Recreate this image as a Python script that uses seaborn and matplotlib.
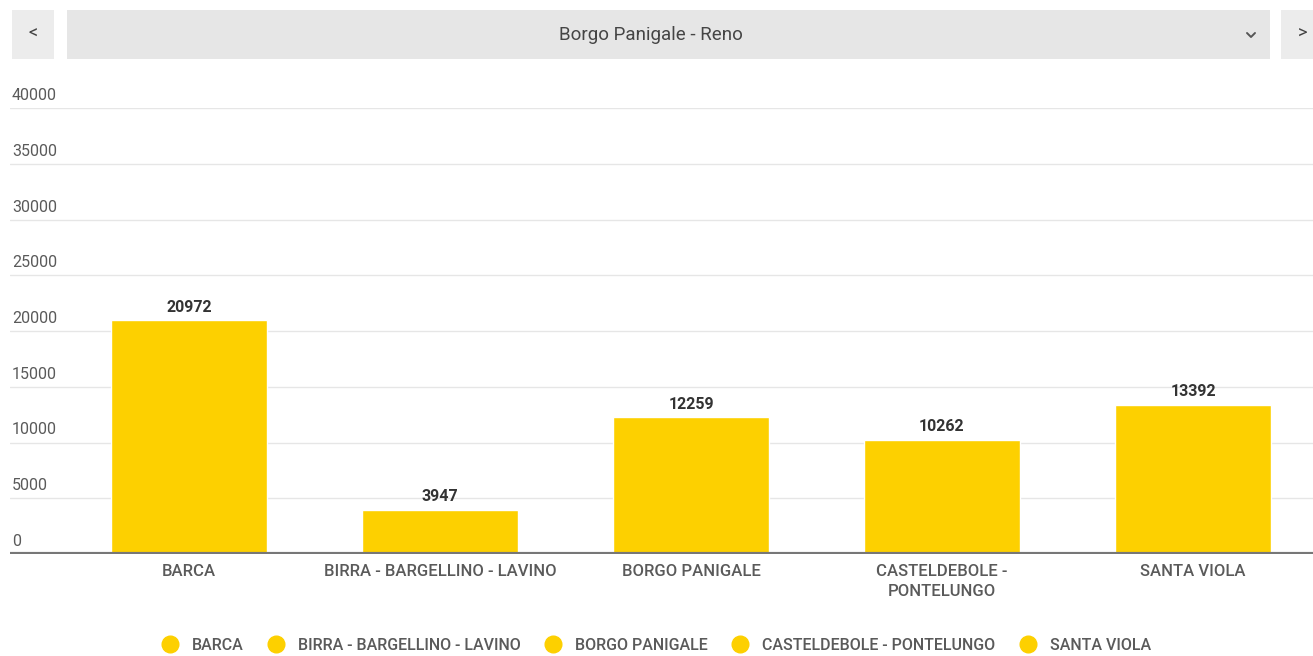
import matplotlib
matplotlib.use("Agg")
import matplotlib.pyplot as plt
from matplotlib.lines import Line2D
from matplotlib.patches import Rectangle
from matplotlib.transforms import blended_transform_factory, offset_copy
import seaborn as sns
import pandas as pd

# Data
zones = ["BARCA", "BIRRA - BARGELLINO - LAVINO", "BORGO PANIGALE",
         "CASTELDEBOLE - PONTELUNGO", "SANTA VIOLA"]
tick_labels = ["BARCA", "BIRRA - BARGELLINO - LAVINO", "BORGO PANIGALE",
               "CASTELDEBOLE -\nPONTELUNGO", "SANTA VIOLA"]
residents = [20972, 3947, 12259, 10262, 13392]
y_ticks = [0, 5000, 10000, 15000, 20000, 25000, 30000, 35000, 40000]
district = "Borgo Panigale - Reno"

BAR = "#FDD000"
TEXT = "#5a5a5a"

sns.set_theme(style="white")
plt.rcParams["font.family"] = ["Roboto", "DejaVu Sans"]

W, H, DPI = 1313, 656, 100
fig = plt.figure(figsize=(W / DPI, H / DPI), dpi=DPI)
fig.patch.set_facecolor("white")


def px(x, y):
    return x / W, 1 - y / H


# Navigation bar: previous button, district selector, next button
def box(x0, y0, x1, y1, color):
    fx0, fy1 = px(x0, y0)
    fx1, fy0 = px(x1, y1)
    fig.add_artist(Rectangle((fx0, fy0), fx1 - fx0, fy1 - fy0,
                             transform=fig.transFigure, color=color, lw=0))

box(12, 10, 54, 59, "#ececec")
box(67, 10, 1270, 59, "#e6e6e6")
box(1281, 10, 1320, 59, "#ececec")
fig.text(*px(33, 34), "<", ha="center", va="center", fontsize=13, color="#444")
fig.text(*px(1303, 34), ">", ha="center", va="center", fontsize=13, color="#444")
fig.text(*px(651, 35), district, ha="center", va="center", fontsize=13.5,
         color="#454545")
cx, cy = 1251, 35
xs = [px(cx - 4, cy - 2)[0], px(cx, cy + 2)[0], px(cx + 4, cy - 2)[0]]
ys = [px(cx - 4, cy - 2)[1], px(cx, cy + 2)[1], px(cx + 4, cy - 2)[1]]
fig.add_artist(Line2D(xs, ys, transform=fig.transFigure, color="#555", lw=1.4))

# Plot area
top_px, base_px = 108, 554
ax = fig.add_axes([10 / W, 1 - base_px / H, 1 - 10 / W, (base_px - top_px) / H])

df = pd.DataFrame({"zone": zones, "residents": residents})
sns.barplot(data=df, x="zone", y="residents", hue="zone",
            palette=[BAR] * len(zones), width=0.62, saturation=1,
            legend=False, ax=ax)

ax.set_xlim((10 - 189) / 251, (1313 - 189) / 251)
ax.set_ylim(0, 40000)
ax.set_xlabel("")
ax.set_ylabel("")

# Grid
for v in y_ticks[1:]:
    ax.axhline(v, color="#e6e6e6", lw=1, zorder=0)
ax.axhline(0, color="#777777", lw=3, zorder=3)

for s in ax.spines.values():
    s.set_visible(False)

# Y labels sit just above their grid line, inside the plot
ax.set_yticks([])
tr = offset_copy(blended_transform_factory(ax.transAxes, ax.transData),
                 fig=fig, x=2, y=5, units="dots")
for v in y_ticks:
    ax.text(0, v, str(v), transform=tr, ha="left", va="bottom",
            fontsize=11.5, color=TEXT)

ax.set_xticks(range(len(zones)))
ax.set_xticklabels(tick_labels, fontsize=12, color=TEXT, fontweight="medium",
                   linespacing=1.45)
ax.tick_params(axis="x", length=0, pad=7)

for c in ax.containers:
    ax.bar_label(c, fmt="%d", padding=4, fontsize=11.5, fontweight="bold",
                 color="#333333")

# Legend
handles = [Line2D([], [], marker="o", ls="", markersize=12,
                  markerfacecolor=BAR, markeredgecolor=BAR) for _ in zones]
fig.legend(handles, zones, loc="center", bbox_to_anchor=(0.5, 1 - 645 / H),
           ncol=len(zones), frameon=False, fontsize=11.5, labelcolor=TEXT,
           prop={"weight": "medium", "size": 11.5},
           handletextpad=0.9, columnspacing=1.5, handlelength=1.0)

fig.savefig("out.png", dpi=DPI, facecolor="white")
